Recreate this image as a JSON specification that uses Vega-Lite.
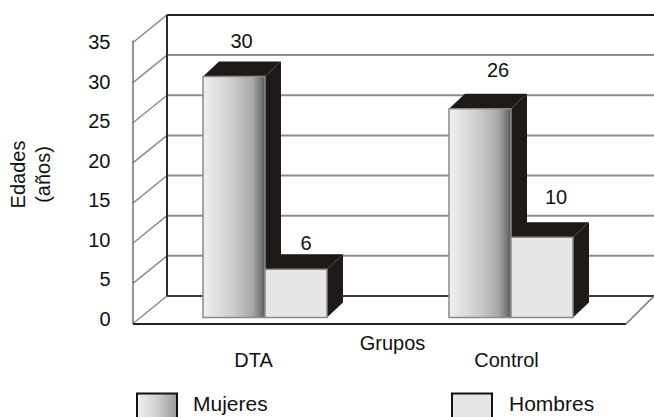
{
  "$schema": "https://vega.github.io/schema/vega-lite/v6.json",
  "width": 654,
  "height": 417,
  "padding": 0,
  "autosize": {"type": "none"},
  "background": "white",
  "config": {
    "view": {"stroke": null},
    "font": "Liberation Sans",
    "axis": {"grid": false, "ticks": false, "domain": false, "labelFont": "Liberation Sans", "titleFont": "Liberation Sans", "labelColor": "#111", "titleColor": "#111", "titleFontWeight": "normal"}
  },
  "datasets": {
    "barras": [
      {"grupo": "DTA", "sexo": "Mujeres", "valor": 30},
      {"grupo": "DTA", "sexo": "Hombres", "valor": 6},
      {"grupo": "Control", "sexo": "Mujeres", "valor": 26},
      {"grupo": "Control", "sexo": "Hombres", "valor": 10}
    ],
    "marcas": [{"v": 0}, {"v": 5}, {"v": 10}, {"v": 15}, {"v": 20}, {"v": 25}, {"v": 30}, {"v": 35}]
  },
  "encoding": {
    "x": {"type": "quantitative", "scale": {"domain": [0, 654], "range": [0, 654], "nice": false, "zero": false}},
    "y": {"type": "quantitative", "scale": {"domain": [-12.39, 39.54], "range": [417, 0], "nice": false, "zero": false}}
  },
  "layer": [
    {
      "data": {"name": "marcas"},
      "transform": [{"calculate": "datum.v + 2.68", "as": "yf"}, {"calculate": "654", "as": "xf"}, {"calculate": "167", "as": "xi"}],
      "mark": {"type": "rule", "color": "#8c8c8c", "strokeWidth": 2},
      "encoding": {
        "x": {
          "field": "xi", "type": "quantitative",
          "axis": {
            "orient": "bottom", "offset": -67, "values": [253, 506],
            "labelExpr": "datum.value < 300 ? 'DTA' : 'Control'",
            "labelFontSize": 20, "labelPadding": 0,
            "title": "Grupos", "titleFontSize": 20, "titleX": 392, "titleY": -7, "titleBaseline": "middle"
          }
        },
        "x2": {"field": "xf"},
        "y": {
          "field": "yf", "type": "quantitative",
          "axis": {
            "orient": "left", "offset": -113, "values": [0, 4.915, 9.83, 14.745, 19.66, 24.575, 29.49, 34.405],
            "labelExpr": "round(datum.value / 0.983)",
            "labelFontSize": 20, "labelPadding": 3, "labelOffset": 1.5,
            "title": ["Edades", "(años)"], "titleFontSize": 20, "titleLineHeight": 25, "titleAngle": -90, "titleX": -95, "titleY": 174, "titleAlign": "center", "titleBaseline": "middle"
          }
        }
      }
    },
    {
      "data": {"name": "marcas"},
      "transform": [
        {"calculate": "[0, 1]", "as": "t"},
        {"flatten": ["t"]},
        {"calculate": "133 + 34 * datum.t", "as": "xp"},
        {"calculate": "datum.v - 0.75 + 3.43 * datum.t", "as": "yp"}
      ],
      "mark": {"type": "line", "color": "#8c8c8c", "strokeWidth": 1.5},
      "encoding": {
        "x": {"field": "xp", "type": "quantitative"},
        "y": {"field": "yp", "type": "quantitative"},
        "detail": {"field": "v"}
      }
    },
    {
      "data": {"values": [{"xa": 133, "v1": -0.8, "v2": 34.5, "ancho": 1.5, "tono": "#707070"}, {"xa": 167, "v1": 2.68, "v2": 37.68, "ancho": 2, "tono": "#2a2a2a"}]},
      "mark": {"type": "rule"},
      "encoding": {
        "x": {"field": "xa", "type": "quantitative"},
        "y": {"field": "v1", "type": "quantitative"},
        "y2": {"field": "v2"},
        "strokeWidth": {"field": "ancho", "type": "quantitative", "scale": null},
        "color": {"field": "tono", "type": "nominal", "scale": null}
      }
    },
    {
      "data": {"values": [{"xa": 167, "xb": 654, "v": 37.68, "tono": "#222222"}, {"xa": 167, "xb": 654, "v": 2.68, "tono": "#3a3a3a"}, {"xa": 133, "xb": 626, "v": -0.8, "tono": "#222222"}]},
      "mark": {"type": "rule", "strokeWidth": 2},
      "encoding": {
        "x": {"field": "xa", "type": "quantitative"},
        "x2": {"field": "xb"},
        "y": {"field": "v", "type": "quantitative"},
        "color": {"field": "tono", "type": "nominal", "scale": null}
      }
    },
    {
      "data": {"values": [{"xp": 626, "yp": -0.8}, {"xp": 654, "yp": 2.68}]},
      "mark": {"type": "line", "color": "#707070", "strokeWidth": 1.5},
      "encoding": {
        "x": {"field": "xp", "type": "quantitative"},
        "y": {"field": "yp", "type": "quantitative"}
      }
    },
    {
      "data": {"name": "barras"},
      "transform": [
        {"calculate": "(datum.grupo === 'DTA' ? 265 : 511) + (datum.sexo === 'Mujeres' ? 0 : 62)", "as": "lado"},
        {"calculate": "[0, 1]", "as": "t"},
        {"flatten": ["t"]},
        {"calculate": "datum.lado + 16 * datum.t", "as": "xp"},
        {"calculate": "datum.valor + 1.87 * datum.t", "as": "ya"},
        {"calculate": "1.87 * datum.t", "as": "yb"}
      ],
      "mark": {"type": "area", "color": "#1f1a17"},
      "encoding": {
        "x": {"field": "xp", "type": "quantitative"},
        "y": {"field": "ya", "type": "quantitative"},
        "y2": {"field": "yb"},
        "detail": {"field": "lado"}
      }
    },
    {
      "data": {"name": "barras"},
      "transform": [
        {"calculate": "(datum.grupo === 'DTA' ? 265 : 511) + (datum.sexo === 'Mujeres' ? 0 : 62)", "as": "lado"},
        {"calculate": "[0, 1]", "as": "t"},
        {"flatten": ["t"]},
        {"calculate": "datum.lado - 62 + 16 * datum.t", "as": "xa"},
        {"calculate": "datum.lado + 16 * datum.t", "as": "xb"},
        {"calculate": "datum.valor + 1.87 * datum.t", "as": "yp"}
      ],
      "mark": {"type": "area", "color": "#1f1a17", "orient": "horizontal"},
      "encoding": {
        "x": {"field": "xa", "type": "quantitative"},
        "x2": {"field": "xb"},
        "y": {"field": "yp", "type": "quantitative"},
        "detail": {"field": "lado"}
      }
    },
    {
      "data": {"name": "barras"},
      "transform": [
        {"filter": "datum.sexo === 'Mujeres'"},
        {"calculate": "datum.grupo === 'DTA' ? 265 : 511", "as": "lado"},
        {"calculate": "datum.lado - 62", "as": "xa"},
        {"calculate": "0", "as": "base"}
      ],
      "mark": {
        "type": "rect", "stroke": "#8a8a8a", "strokeWidth": 1.5,
        "fill": {"x1": 0, "y1": 0, "x2": 1, "y2": 0, "gradient": "linear", "stops": [
          {"offset": 0, "color": "#f0f0f0"},
          {"offset": 0.45, "color": "#cfcfcf"},
          {"offset": 0.8, "color": "#a8a8a8"},
          {"offset": 0.95, "color": "#707070"},
          {"offset": 1, "color": "#555555"}
        ]}
      },
      "encoding": {
        "x": {"field": "xa", "type": "quantitative"},
        "x2": {"field": "lado"},
        "y": {"field": "valor", "type": "quantitative"},
        "y2": {"field": "base"}
      }
    },
    {
      "data": {"name": "barras"},
      "transform": [
        {"filter": "datum.sexo === 'Hombres'"},
        {"calculate": "(datum.grupo === 'DTA' ? 265 : 511) + 62", "as": "lado"},
        {"calculate": "datum.lado - 62", "as": "xa"},
        {"calculate": "0", "as": "base"}
      ],
      "mark": {"type": "rect", "fill": "#e6e6e6", "stroke": "#8a8a8a", "strokeWidth": 1.5},
      "encoding": {
        "x": {"field": "xa", "type": "quantitative"},
        "x2": {"field": "lado"},
        "y": {"field": "valor", "type": "quantitative"},
        "y2": {"field": "base"}
      }
    },
    {
      "data": {"name": "barras"},
      "transform": [
        {"calculate": "{'DTAMujeres': 241.5, 'DTAHombres': 306, 'ControlMujeres': 498, 'ControlHombres': 556}[datum.grupo + datum.sexo]", "as": "xt"},
        {"calculate": "datum.valor + {'DTAMujeres': 4.25, 'DTAHombres': 3.18, 'ControlMujeres': 4.64, 'ControlHombres': 4.9}[datum.grupo + datum.sexo]", "as": "yt"}
      ],
      "mark": {"type": "text", "fontSize": 20, "color": "#111", "baseline": "middle", "align": "center"},
      "encoding": {
        "x": {"field": "xt", "type": "quantitative"},
        "y": {"field": "yt", "type": "quantitative"},
        "text": {"field": "valor", "type": "quantitative"}
      }
    },
    {
      "data": {"name": "barras"},
      "transform": [
        {"filter": "datum.grupo === 'DTA' && datum.sexo === 'Mujeres'"},
        {"calculate": "137", "as": "xa"},
        {"calculate": "177", "as": "xb"},
        {"calculate": "-9.45", "as": "ya"},
        {"calculate": "-13", "as": "yb"}
      ],
      "mark": {
        "type": "rect", "stroke": "#111", "strokeWidth": 2,
        "fill": {"x1": 0, "y1": 0, "x2": 1, "y2": 0, "gradient": "linear", "stops": [
          {"offset": 0, "color": "#f0f0f0"},
          {"offset": 0.5, "color": "#cfcfcf"},
          {"offset": 1, "color": "#999999"}
        ]}
      },
      "encoding": {
        "x": {"field": "xa", "type": "quantitative"},
        "x2": {"field": "xb"},
        "y": {"field": "ya", "type": "quantitative"},
        "y2": {"field": "yb"}
      }
    },
    {
      "data": {"name": "barras"},
      "transform": [
        {"filter": "datum.grupo === 'DTA' && datum.sexo === 'Hombres'"},
        {"calculate": "452", "as": "xa"},
        {"calculate": "492", "as": "xb"},
        {"calculate": "-9.45", "as": "ya"},
        {"calculate": "-13", "as": "yb"}
      ],
      "mark": {"type": "rect", "fill": "#e6e6e6", "stroke": "#111", "strokeWidth": 2},
      "encoding": {
        "x": {"field": "xa", "type": "quantitative"},
        "x2": {"field": "xb"},
        "y": {"field": "ya", "type": "quantitative"},
        "y2": {"field": "yb"}
      }
    },
    {
      "data": {"name": "barras"},
      "transform": [
        {"filter": "datum.grupo === 'DTA'"},
        {"calculate": "datum.sexo === 'Mujeres' ? 193 : 509", "as": "xt"},
        {"calculate": "-10.95", "as": "yt"}
      ],
      "mark": {"type": "text", "fontSize": 21, "color": "#111", "baseline": "middle", "align": "left"},
      "encoding": {
        "x": {"field": "xt", "type": "quantitative"},
        "y": {"field": "yt", "type": "quantitative"},
        "text": {"field": "sexo", "type": "nominal"}
      }
    }
  ]
}
